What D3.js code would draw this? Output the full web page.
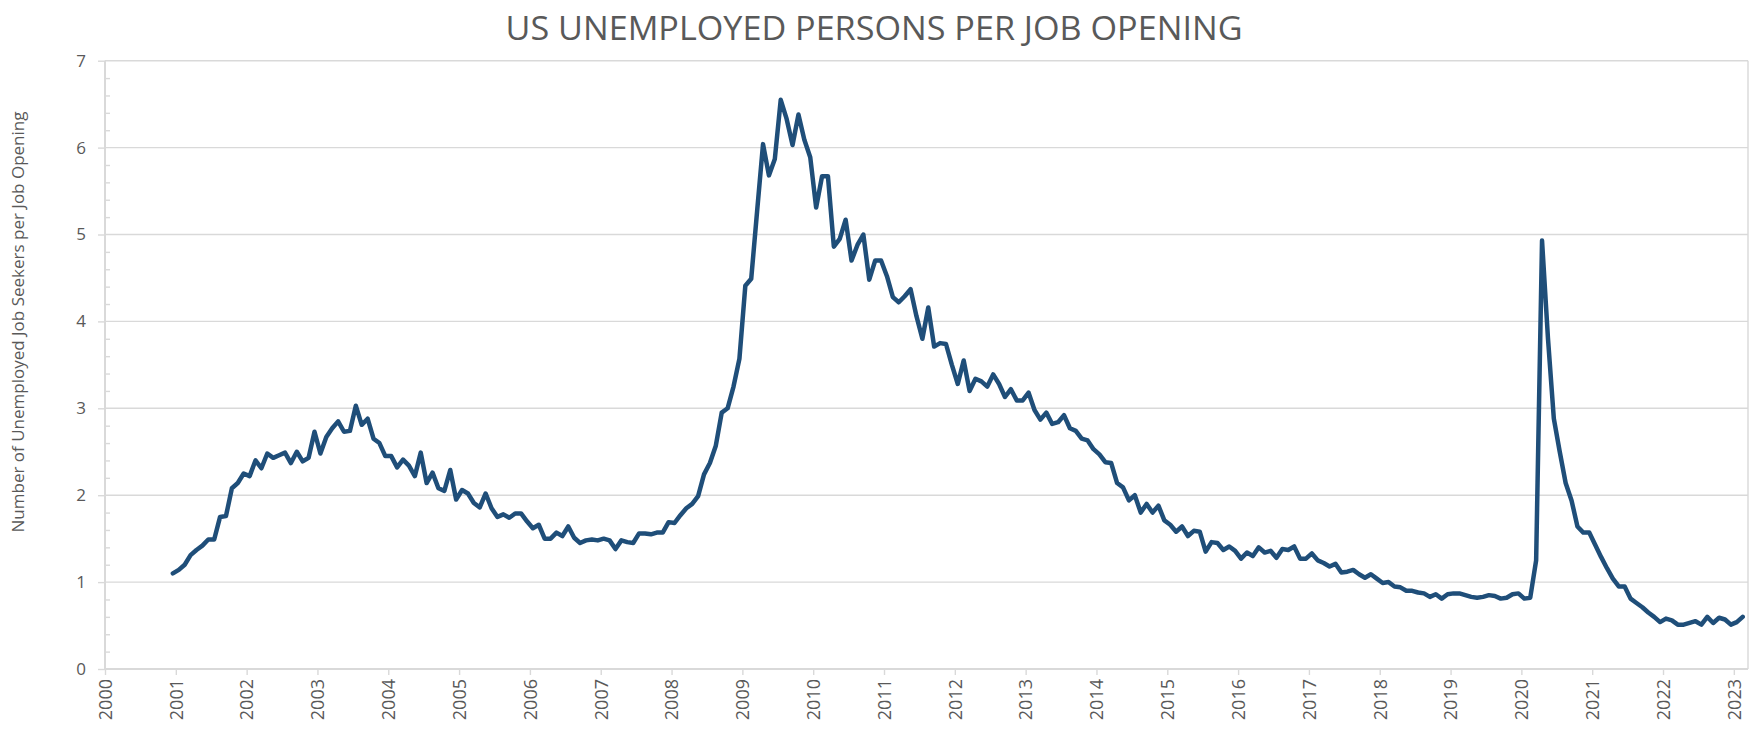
<!DOCTYPE html>
<html><head><meta charset="utf-8">
<script src="https://cdn.jsdelivr.net/npm/d3@7"></script>
<style>body{margin:0;background:#fff}svg{display:block}</style>
</head><body>
<svg id="c" width="1752" height="729"></svg>
<script>
// Monthly values: unemployed persons per job opening (Dec 2000 – Feb 2023)
const v2000 = [1.10];                      // Dec
const v2001 = [1.14, 1.20, 1.31, 1.37, 1.42, 1.49, 1.49, 1.75, 1.76, 2.08, 2.14, 2.25];
const v2002 = [2.22, 2.40, 2.31, 2.48, 2.43, 2.46, 2.49, 2.37, 2.50, 2.39, 2.43, 2.73];
const v2003 = [2.48, 2.67, 2.77, 2.85, 2.73, 2.74, 3.03, 2.81, 2.88, 2.65, 2.60, 2.45];
const v2004 = [2.45, 2.32, 2.41, 2.34, 2.22, 2.49, 2.14, 2.26, 2.08, 2.05, 2.29, 1.95];
const v2005 = [2.06, 2.02, 1.91, 1.86, 2.02, 1.85, 1.75, 1.78, 1.74, 1.79, 1.79, 1.70];
const v2006 = [1.62, 1.66, 1.50, 1.50, 1.57, 1.53, 1.64, 1.51, 1.45, 1.48, 1.49, 1.48];
const v2007 = [1.50, 1.48, 1.38, 1.48, 1.46, 1.45, 1.56, 1.56, 1.55, 1.57, 1.57, 1.69];
const v2008 = [1.68, 1.77, 1.85, 1.90, 1.99, 2.24, 2.37, 2.57, 2.95, 3.00, 3.25, 3.57];
const v2009 = [4.41, 4.49, 5.27, 6.04, 5.68, 5.87, 6.55, 6.33, 6.03, 6.38, 6.09, 5.89];
const v2010 = [5.31, 5.67, 5.67, 4.86, 4.95, 5.17, 4.70, 4.88, 5.00, 4.48, 4.70, 4.70];
const v2011 = [4.52, 4.28, 4.22, 4.29, 4.37, 4.06, 3.80, 4.16, 3.71, 3.75, 3.74, 3.50];
const v2012 = [3.28, 3.55, 3.20, 3.34, 3.31, 3.25, 3.39, 3.28, 3.13, 3.22, 3.09, 3.09];
const v2013 = [3.18, 2.98, 2.87, 2.95, 2.82, 2.84, 2.92, 2.77, 2.74, 2.65, 2.63, 2.53];
const v2014 = [2.47, 2.38, 2.37, 2.14, 2.09, 1.94, 2.00, 1.80, 1.90, 1.80, 1.88, 1.71];
const v2015 = [1.66, 1.58, 1.64, 1.53, 1.59, 1.58, 1.35, 1.46, 1.45, 1.37, 1.41, 1.36];
const v2016 = [1.27, 1.34, 1.30, 1.40, 1.34, 1.36, 1.28, 1.38, 1.37, 1.41, 1.27, 1.27];
const v2017 = [1.33, 1.25, 1.22, 1.18, 1.21, 1.11, 1.12, 1.14, 1.09, 1.05, 1.09, 1.04];
const v2018 = [0.99, 1.00, 0.95, 0.94, 0.90, 0.90, 0.88, 0.87, 0.83, 0.86, 0.81, 0.86];
const v2019 = [0.87, 0.87, 0.85, 0.83, 0.82, 0.83, 0.85, 0.84, 0.81, 0.82, 0.86, 0.87];
const v2020 = [0.81, 0.82, 1.25, 4.93, 3.81, 2.88, 2.50, 2.14, 1.94, 1.64, 1.57, 1.57];
const v2021 = [1.43, 1.29, 1.16, 1.04, 0.95, 0.95, 0.81, 0.76, 0.71, 0.65, 0.60, 0.54];
const v2022 = [0.58, 0.56, 0.51, 0.51, 0.53, 0.55, 0.51, 0.60, 0.53, 0.59, 0.57, 0.51];
const v2023 = [0.54, 0.60];                // Jan, Feb

const yTicks = [0, 1, 2, 3, 4, 5, 6, 7];
const xTicks = d3.range(2000, 2024);
const titleText = "US UNEMPLOYED PERSONS PER JOB OPENING";
const yTitleText = "Number of Unemployed Job Seekers per Job Opening";

const yearly = [
  [2000, 12, v2000], [2001, 1, v2001], [2002, 1, v2002], [2003, 1, v2003], [2004, 1, v2004],
  [2005, 1, v2005], [2006, 1, v2006], [2007, 1, v2007], [2008, 1, v2008], [2009, 1, v2009],
  [2010, 1, v2010], [2011, 1, v2011], [2012, 1, v2012], [2013, 1, v2013], [2014, 1, v2014],
  [2015, 1, v2015], [2016, 1, v2016], [2017, 1, v2017], [2018, 1, v2018], [2019, 1, v2019],
  [2020, 1, v2020], [2021, 1, v2021], [2022, 1, v2022], [2023, 1, v2023]
];
const data = [];
yearly.forEach(([yr, m0, arr]) => arr.forEach((v, i) => data.push({t: yr + (m0 - 1 + i) / 12 + 1 / 24, v})));

const svg = d3.select("#c");
const L = 105, R = 1748, T = 60.7, B = 669;
const x = d3.scaleLinear().domain([2000, 2023.2]).range([L, R]);
const y = d3.scaleLinear().domain([0, 7]).range([B, T]);
const gridC = "#d9d9d9", txtC = "#595959", font = "'Open Sans', 'Noto Sans', sans-serif";

// gridlines
svg.append("g").selectAll("line").data(yTicks).join("line")
  .attr("x1", L).attr("x2", R).attr("y1", d => y(d)).attr("y2", d => y(d))
  .attr("stroke", gridC).attr("stroke-width", 1.4);
// right border
svg.append("line").attr("x1", R).attr("x2", R).attr("y1", T).attr("y2", B)
  .attr("stroke", gridC).attr("stroke-width", 1.4);
// axis lines
svg.append("line").attr("x1", L).attr("x2", L).attr("y1", T).attr("y2", B)
  .attr("stroke", gridC).attr("stroke-width", 2);
svg.append("line").attr("x1", L).attr("x2", R).attr("y1", B).attr("y2", B)
  .attr("stroke", gridC).attr("stroke-width", 2);

// y axis
const yAxis = svg.append("g").attr("transform", `translate(${L},0)`)
  .call(d3.axisLeft(y).tickValues(yTicks).tickSize(7).tickPadding(12).tickFormat(d3.format("d")));
yAxis.select(".domain").remove();
yAxis.selectAll("line").attr("stroke", gridC).attr("stroke-width", 1.4);
yAxis.selectAll("text").attr("fill", txtC).style("font-family", font).style("font-size", "17px");

// minor ticks
const minor = d3.range(0, 7.001, 0.2).filter(d => Math.abs(d - Math.round(d)) > 0.01);
const yMinor = svg.append("g").attr("transform", `translate(${L},0)`)
  .call(d3.axisRight(y).tickValues(minor).tickSize(5).tickFormat(""));
yMinor.select(".domain").remove();
yMinor.selectAll("line").attr("stroke", gridC).attr("stroke-width", 1.4);

// x axis
const xAxis = svg.append("g").attr("transform", `translate(0,${B})`)
  .call(d3.axisBottom(x).tickValues(xTicks).tickSize(6).tickFormat(d3.format("d")));
xAxis.select(".domain").remove();
xAxis.selectAll("line").attr("stroke", gridC).attr("stroke-width", 1.4);
xAxis.selectAll("text")
  .attr("transform", "rotate(-90)")
  .attr("text-anchor", "end")
  .attr("x", -10).attr("y", 0).attr("dy", "0.35em")
  .attr("fill", txtC).style("font-family", font).style("font-size", "18px");

// line
svg.append("path").datum(data)
  .attr("fill", "none").attr("stroke", "#1f4e79").attr("stroke-width", 4.5)
  .attr("stroke-linejoin", "round").attr("stroke-linecap", "round")
  .attr("d", d3.line().x(d => x(d.t)).y(d => y(d.v)));

// title
svg.append("text").attr("x", 874).attr("y", 40).attr("text-anchor", "middle")
  .attr("fill", txtC).style("font-family", font).style("font-size", "33px")
  .attr("textLength", 737).attr("lengthAdjust", "spacingAndGlyphs")
  .text(titleText);

// y axis title
svg.append("text").attr("transform", "translate(24,322) rotate(-90)")
  .attr("text-anchor", "middle").attr("fill", txtC)
  .style("font-family", font).style("font-size", "17px")
  .text(yTitleText);
</script>
</body></html>
